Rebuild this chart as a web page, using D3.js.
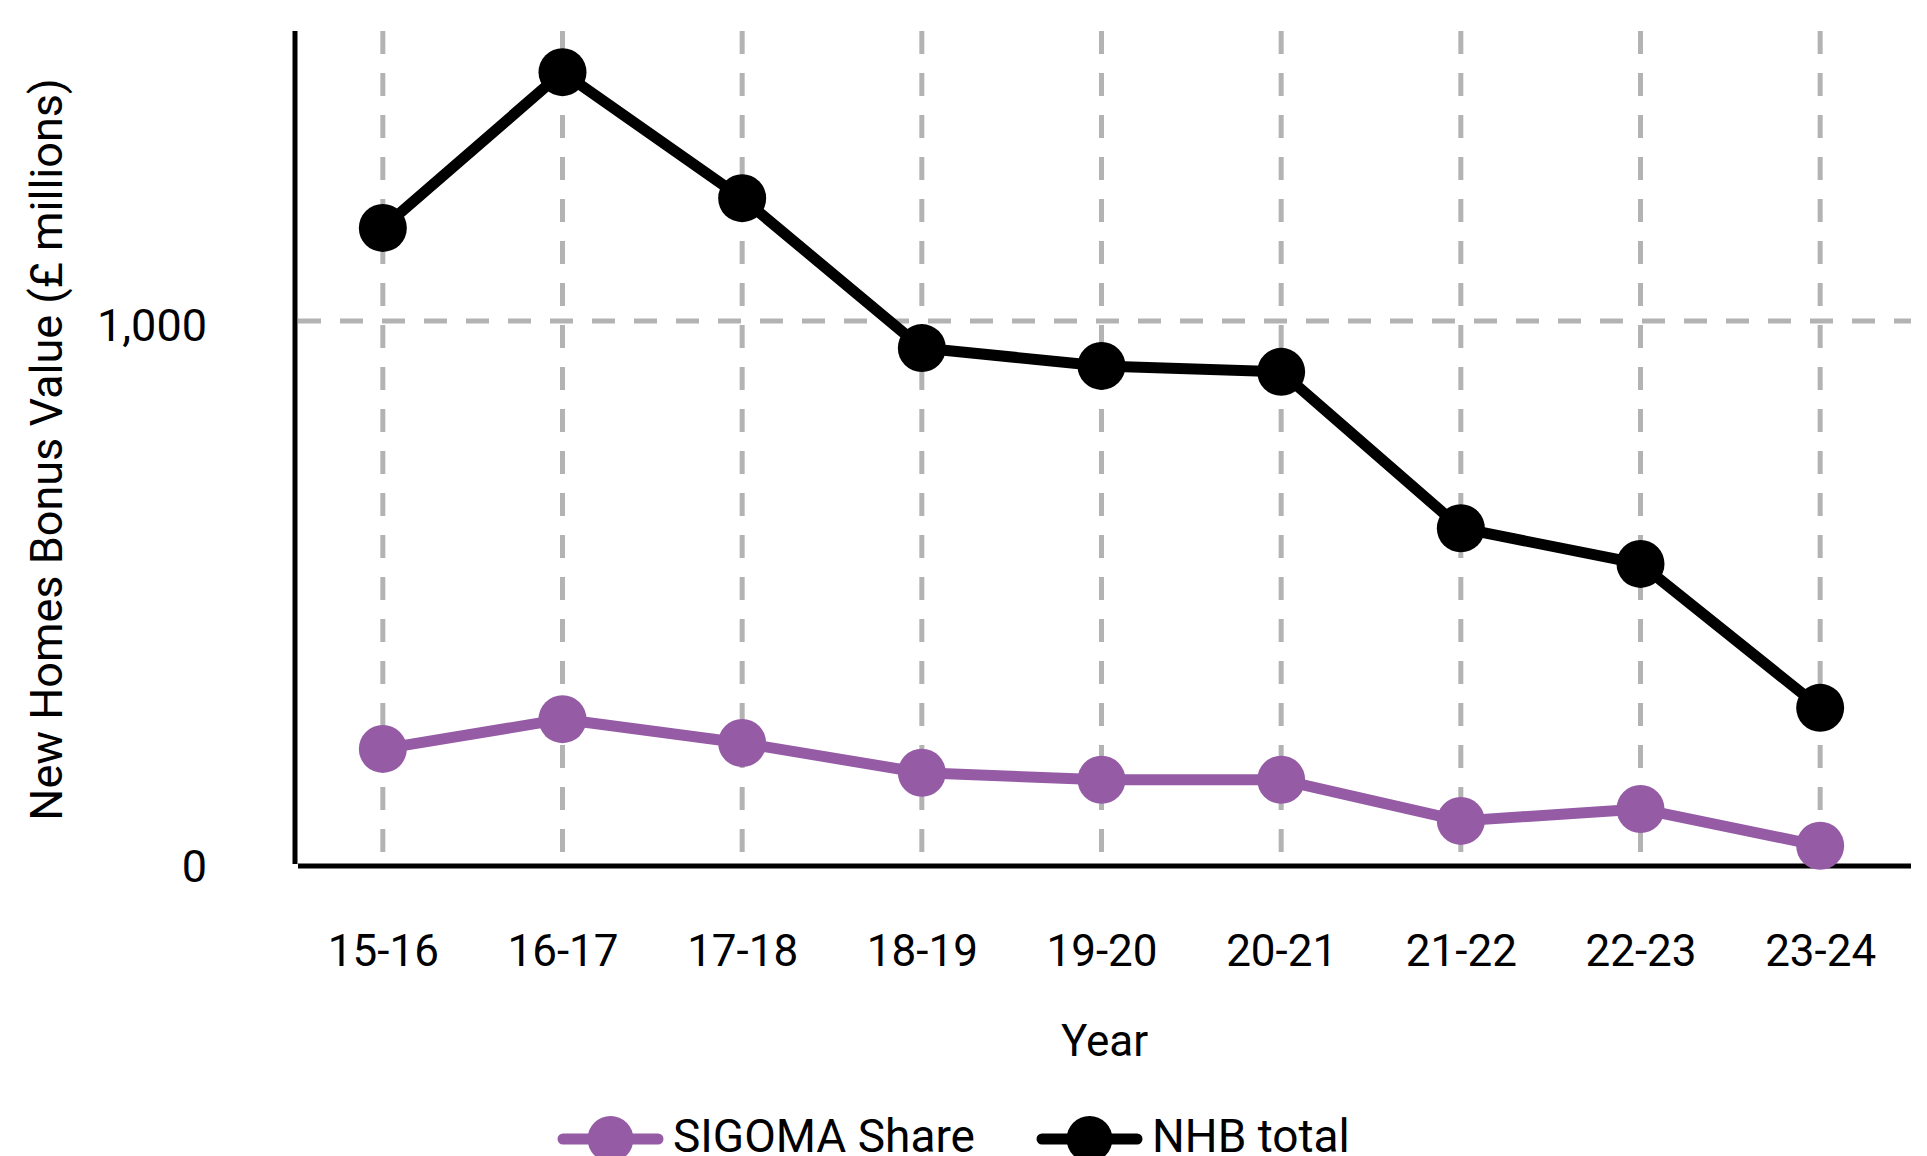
<html>
<head>
    <script src="https://cdn.jsdelivr.net/npm/d3@7"></script>
    <style>
        body { margin: 0; background: #fff; }
        text { font-family: Roboto, "Noto Sans", sans-serif; fill: #000; }
    </style>
</head>
<body>
<script>

    // chart size, same as the window
    var width = 1927, height = 1156;

    // data (£ millions)
    var years = ["15-16", "16-17", "17-18", "18-19", "19-20", "20-21", "21-22", "22-23", "23-24"];
    var nhbTotal = [1172, 1460, 1227, 950, 917, 906, 617, 551, 285];
    var sigomaShare = [209, 264, 220, 165, 152, 152, 76, 98, 30];
    var yTicks = [0, 1000];

    var purple = "#955ba5";
    var grey = "#b3b3b3";

    // plot area edges (avoid the name 'top', it's window.top)
    var plotLeft = 295, plotRight = 1911, plotTop = 31, plotBottom = 862;

    var svg = d3.select("body")
        .append("svg")
        .attr("width", width)
        .attr("height", height);

    // x: one point per year, half a step of padding at each end
    var x = d3.scalePoint()
        .domain(years)
        .range([293, 1910])
        .padding(0.5);

    // y: linear, 0 at the bottom
    var y = d3.scaleLinear()
        .domain([0, 1000])
        .range([plotBottom, 321]);

    /*
     * grid lines - vertical for each year, horizontal only at 1,000
     */
    svg.append("g")
        .selectAll("line")
        .data(years)
        .join("line")
        .attr("x1", d => x(d))
        .attr("x2", d => x(d))
        .attr("y1", plotTop)
        .attr("y2", 852)
        .attr("stroke", grey)
        .attr("stroke-width", 5)
        .attr("stroke-dasharray", "23,19");

    svg.append("g")
        .selectAll("line")
        .data(yTicks.filter(d => d > 0))
        .join("line")
        .attr("x1", 298)
        .attr("x2", plotRight)
        .attr("y1", d => y(d))
        .attr("y2", d => y(d))
        .attr("stroke", grey)
        .attr("stroke-width", 5)
        .attr("stroke-dasharray", "23,19");

    // axis lines, drawn as two separate strokes
    svg.append("line")
        .attr("x1", plotLeft).attr("x2", plotLeft)
        .attr("y1", plotTop).attr("y2", 864)
        .attr("stroke", "#000").attr("stroke-width", 5);

    svg.append("line")
        .attr("x1", 298).attr("x2", plotRight)
        .attr("y1", 866).attr("y2", 866)
        .attr("stroke", "#000").attr("stroke-width", 5);

    // y tick labels
    var yAxis = d3.axisLeft(y)
        .tickValues(yTicks)
        .tickSize(0)
        .tickPadding(0)
        .tickFormat(d3.format(","));

    svg.append("g")
        .attr("transform", "translate(207,0)")
        .call(yAxis)
        .call(g => g.select(".domain").remove())
        .selectAll("text")
        .attr("font-size", 45)
        .attr("font-family", "Roboto")
        .attr("dy", "0.43em");

    // x tick labels
    var xAxis = d3.axisBottom(x)
        .tickSize(0)
        .tickPadding(0);

    svg.append("g")
        .attr("transform", "translate(0,966)")
        .call(xAxis)
        .call(g => g.select(".domain").remove())
        .selectAll("text")
        .attr("font-size", 44)
        .attr("font-family", "Roboto")
        .attr("dy", 0);

    // axis titles
    svg.append("text")
        .attr("transform", "translate(62," + ((76 + 823) / 2) + ") rotate(-90)")
        .attr("text-anchor", "middle")
        .attr("font-size", 45)
        .text("New Homes Bonus Value (£ millions)");

    svg.append("text")
        .attr("x", (298 + plotRight) / 2)
        .attr("y", 1056)
        .attr("text-anchor", "middle")
        .attr("font-size", 44)
        .text("Year");

    /*
     * plot a series: line then the dots on top
     */
    function plotSeries(values, colour)
    {
        var line = d3.line()
            .x((d, i) => x(years[i]))
            .y(d => y(d));

        svg.append("path")
            .datum(values)
            .attr("d", line)
            .attr("fill", "none")
            .attr("stroke", colour)
            .attr("stroke-width", 11)
            .attr("stroke-linejoin", "round");

        svg.append("g")
            .selectAll("circle")
            .data(values)
            .join("circle")
            .attr("cx", (d, i) => x(years[i]))
            .attr("cy", d => y(d))
            .attr("r", 24)
            .attr("fill", colour);
    }

    plotSeries(sigomaShare, purple);
    plotSeries(nhbTotal, "#000");

    // legend along the bottom edge (the reference crops it)
    var legend = [
        { name: "SIGOMA Share", colour: purple, x: 563 },
        { name: "NHB total", colour: "#000", x: 1042 }
    ];

    var items = svg.append("g")
        .selectAll("g")
        .data(legend)
        .join("g")
        .attr("transform", d => "translate(" + d.x + ",1139)");

    items.append("line")
        .attr("x1", 0).attr("x2", 95)
        .attr("stroke", d => d.colour)
        .attr("stroke-width", 11)
        .attr("stroke-linecap", "round");

    items.append("circle")
        .attr("cx", 47.5)
        .attr("r", 23)
        .attr("fill", d => d.colour);

    items.append("text")
        .attr("x", 110)
        .attr("y", 13)
        .attr("font-size", 46)
        .text(d => d.name);

</script>
</body>
</html>
